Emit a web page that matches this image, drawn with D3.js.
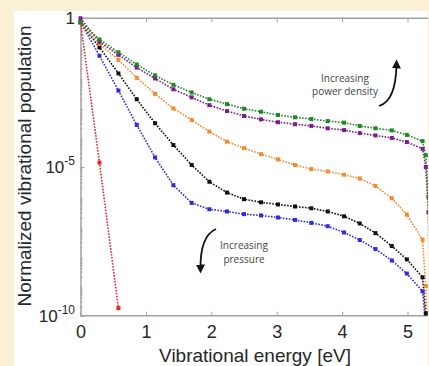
<!DOCTYPE html>
<html>
<head>
<meta charset="utf-8">
<script src="https://cdn.jsdelivr.net/npm/d3@7"></script>
<style>
  body { margin: 0; background: #fcf0d4; overflow: hidden; }
  svg { display: block; }
</style>
</head>
<body>
<svg width="429" height="366"></svg>
<script>
// vibrational levels (eV) and normalized populations
const energy = [0, 0.29, 0.58, 0.86, 1.14, 1.42, 1.70, 1.97, 2.24, 2.50, 2.76, 3.02, 3.28, 3.53, 3.78, 4.03, 4.27, 4.51, 4.76, 4.99, 5.23, 5.28, 5.32, 5.37];

const green  = [0.74, 0.195, 0.072, 0.028, 0.012, 5.8e-3, 3.2e-3, 1.9e-3, 1.3e-3, 9.1e-4, 7.2e-4, 5.6e-4, 4.7e-4, 4.1e-4, 3.5e-4, 3.1e-4, 2.4e-4, 2.0e-4, 1.7e-4, 1.2e-4, 7.4e-5, 2.5e-5, 1e-6, 1e-20];
const purple = [1, 0.162, 0.059, 0.022, 9.5e-3, 4.1e-3, 2.2e-3, 1.2e-3, 7.6e-4, 5.2e-4, 4.0e-4, 3.2e-4, 2.75e-4, 2.4e-4, 2.0e-4, 1.74e-4, 1.38e-4, 1.15e-4, 9.5e-5, 6.9e-5, 4.1e-5, 1.0e-5, 3e-7, 1e-20];
const orange = [0.74, 0.138, 0.040, 0.010, 2.9e-3, 9.3e-4, 3.8e-4, 1.55e-4, 7.1e-5, 4.3e-5, 2.7e-5, 1.8e-5, 1.17e-5, 8.5e-6, 7.1e-6, 5.5e-6, 4.1e-6, 2.3e-6, 8.9e-7, 2.5e-7, 3.6e-8, 1e-9, 1e-11, 1e-20];
const black  = [0.74, 0.105, 0.014, 1.9e-3, 2.95e-4, 5.5e-5, 1.17e-5, 3.2e-6, 1.38e-6, 8.3e-7, 6.5e-7, 5.5e-7, 4.7e-7, 4.1e-7, 3.2e-7, 2.2e-7, 1.26e-7, 6.0e-8, 2.2e-8, 7.8e-9, 1.95e-9, 1.2e-10, 1e-12, 1e-20];
const blue   = [0.74, 0.055, 3.7e-3, 2.6e-4, 2.1e-5, 2.45e-6, 6.2e-7, 3.8e-7, 3.2e-7, 2.6e-7, 2.35e-7, 2.0e-7, 1.66e-7, 1.32e-7, 1.02e-7, 6.3e-8, 3.5e-8, 1.74e-8, 7.2e-9, 2.6e-9, 6.6e-10, 5e-11, 1e-12, 1e-20];
const red    = [0.74, 1.4e-5, 1.8e-10];

const xTicks = [0, 1, 2, 3, 4, 5];
const yTicks = [1, 1e-5, 1e-10];
const yTickExp = ["", "-5", "-10"];

let svg = d3.select("svg");

// white panel on cream background
svg.append("rect")
    .attr("x", 14).attr("y", 11)
    .attr("width", 414).attr("height", 355)
    .attr("fill", "#ffffff");

let x = d3.scaleLinear().domain([0, 5.5]).range([80.5, 440.2]);
let y = d3.scaleLog().domain([1e-10, 1]).range([315.7, 18.3]);

svg.append("clipPath").attr("id", "plot")
    .append("rect")
    .attr("x", 76).attr("y", 12)
    .attr("width", 352).attr("height", 315.7 - 12);

let axisColor = "#a0a0a0";

// bottom axis
let gx = svg.append("g")
    .attr("transform", "translate(0,315.7)")
    .call(d3.axisBottom(x).tickValues(xTicks).tickSize(-4).tickSizeOuter(0)
        .tickPadding(10).tickFormat(d3.format("d")));
gx.select(".domain").attr("d", "M80.5,0H428");
// top axis
let gt = svg.append("g")
    .attr("transform", "translate(0,18.3)")
    .call(d3.axisTop(x).tickValues(xTicks).tickSize(-4).tickSizeOuter(0).tickFormat(""));
gt.select(".domain").attr("d", "M80.5,0H428");
// left axis, with minor log ticks
let minor = [];
for (let e = -10; e < 0; e++) {
    for (let m = 2; m <= 9; m++) minor.push(m * Math.pow(10, e));
}
let gy = svg.append("g")
    .attr("transform", "translate(80.5,0)")
    .call(d3.axisLeft(y).tickValues(yTicks).tickSize(-4).tickSizeOuter(0).tickFormat(""));
svg.append("g")
    .attr("transform", "translate(80.5,0)")
    .call(d3.axisLeft(y).tickValues(minor).tickSize(-2).tickSizeOuter(0).tickFormat(""))
    .call(g => g.select(".domain").remove());

svg.selectAll(".domain").attr("stroke", axisColor).attr("stroke-width", 1.5);
svg.selectAll(".tick line").attr("stroke", axisColor);

gx.selectAll(".tick text")
    .attr("font-family", "Liberation Sans, Arial, sans-serif")
    .attr("font-size", 18)
    .attr("fill", "#262626");

// y tick labels with superscripts
let yl = svg.append("g")
    .selectAll("text")
    .data(yTicks)
    .join("text")
    .attr("x", 75)
    .attr("y", d => y(d) + 6)
    .attr("text-anchor", "end")
    .attr("font-family", "Liberation Sans, Arial, sans-serif")
    .attr("font-size", 17)
    .attr("fill", "#262626");
yl.each(function(d, i) {
    let t = d3.select(this);
    if (yTickExp[i] === "") {
        t.text("1");
    } else {
        t.append("tspan").text("10");
        t.append("tspan").attr("dy", -8).attr("font-size", 12).text(yTickExp[i]);
    }
});

// axis titles
svg.append("text")
    .attr("x", 255).attr("y", 362)
    .attr("text-anchor", "middle")
    .attr("font-family", "Liberation Sans, Arial, sans-serif")
    .attr("font-size", 19)
    .attr("fill", "#262626")
    .text("Vibrational energy [eV]");

svg.append("text")
    .attr("transform", "translate(31,166) rotate(-90)")
    .attr("text-anchor", "middle")
    .attr("font-family", "Liberation Sans, Arial, sans-serif")
    .attr("font-size", 19)
    .attr("fill", "#262626")
    .text("Normalized vibrational population");

// series
let series = [
    { name: "red", values: red, color: "#e8262a" },
    { name: "blue", values: blue, color: "#2a2ee0" },
    { name: "black", values: black, color: "#111111" },
    { name: "orange", values: orange, color: "#f28a2e" },
    { name: "purple", values: purple, color: "#7a1e8e" },
    { name: "green", values: green, color: "#1f8a24" }
];

let line = d3.line()
    .x((d, i) => x(energy[i]))
    .y(d => y(d));

let plot = svg.append("g").attr("clip-path", "url(#plot)");

plot.selectAll("path.series")
    .data(series)
    .join("path")
    .attr("class", "series")
    .attr("fill", "none")
    .attr("stroke", d => d.color)
    .attr("stroke-width", 1.6)
    .attr("stroke-dasharray", "1.6,1.4")
    .attr("d", d => line(d.values));

series.forEach(s => {
    plot.append("g")
        .selectAll("rect")
        .data(s.values.filter(v => v >= 1e-10))
        .join("rect")
        .attr("x", (d, i) => x(energy[i]) - 2)
        .attr("y", d => y(d) - 2)
        .attr("width", 4)
        .attr("height", 4)
        .attr("fill", s.color);
});

// annotations
let note = svg.append("g")
    .attr("font-family", "Open Sans, sans-serif")
    .attr("font-size", 10)
    .attr("fill", "#444")
    .attr("text-anchor", "middle");
note.append("text").attr("x", 345).attr("y", 81.5).text("Increasing");
note.append("text").attr("x", 345).attr("y", 95).text("power density");
note.append("text").attr("x", 244).attr("y", 249).text("Increasing");
note.append("text").attr("x", 244).attr("y", 263).text("pressure");

svg.append("defs").append("marker")
    .attr("id", "head")
    .attr("viewBox", "0 0 10 10")
    .attr("refX", 5).attr("refY", 5)
    .attr("markerWidth", 5).attr("markerHeight", 5)
    .attr("orient", "auto-start-reverse")
    .append("path")
    .attr("d", "M0,0 L10,5 L0,10 z")
    .attr("fill", "#111");

svg.append("path")
    .attr("d", "M379,106 Q396,101 396.5,64")
    .attr("fill", "none")
    .attr("stroke", "#111")
    .attr("stroke-width", 1.8)
    .attr("marker-end", "url(#head)");

svg.append("path")
    .attr("d", "M216,229 Q200,236 200.5,269")
    .attr("fill", "none")
    .attr("stroke", "#111")
    .attr("stroke-width", 1.8)
    .attr("marker-end", "url(#head)");
</script>
</body>
</html>
